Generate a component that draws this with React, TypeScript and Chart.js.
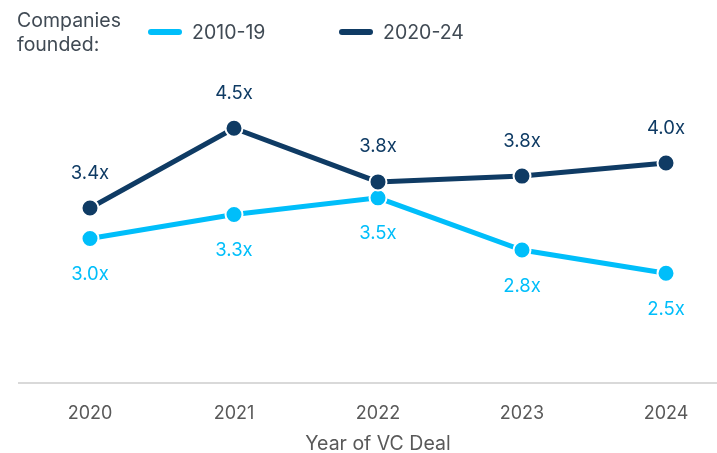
import React, { useEffect, useRef } from "react";
import { Chart, registerables } from "chart.js";

Chart.register(...registerables);

const years = ["2020", "2021", "2022", "2023", "2024"];
const seriesNames = ["2010-19", "2020-24"];
const founded2010s = [2.98, 3.31, 3.54, 2.82, 2.5];
const founded2020s = [3.4, 4.5, 3.76, 3.84, 4.02];
const legendTitle = ["Companies", "founded:"];
const xAxisTitle = "Year of VC Deal";

const LIGHT = "#00BEFA";
const DARK = "#0F3B64";
const FONT = "Inter, 'Noto Sans', sans-serif";

const overlayPlugin = {
  id: "overlay",
  beforeDatasetsDraw(chart: any) {
    const { ctx, chartArea, width } = chart;
    ctx.save();
    ctx.strokeStyle = "#D9D9D9";
    ctx.lineWidth = 2;
    ctx.beginPath();
    ctx.moveTo(18, chartArea.bottom + 1);
    ctx.lineTo(width, chartArea.bottom + 1);
    ctx.stroke();
    ctx.restore();
  },
  afterDatasetsDraw(chart: any) {
    const { ctx } = chart;
    ctx.save();
    ctx.font = `18.5px ${FONT}`;
    ctx.textAlign = "center";
    ctx.textBaseline = "middle";
    chart.data.datasets.forEach((ds: any, i: number) => {
      const meta = chart.getDatasetMeta(i);
      ctx.fillStyle = ds.borderColor;
      meta.data.forEach((pt: any, j: number) => {
        const v = ds.data[j] as number;
        ctx.fillText(v.toFixed(1) + "x", pt.x, pt.y + ds.labelOffset);
      });
    });
    // legend
    ctx.font = `19.5px ${FONT}`;
    ctx.textAlign = "left";
    ctx.fillStyle = "#404A54";
    ctx.fillText(legendTitle[0], 17, 21);
    ctx.fillText(legendTitle[1], 17, 45);
    const items = [
      { name: seriesNames[0], color: LIGHT, x: 148 },
      { name: seriesNames[1], color: DARK, x: 339 },
    ];
    items.forEach((it) => {
      ctx.strokeStyle = it.color;
      ctx.lineWidth = 6;
      ctx.lineCap = "round";
      ctx.beginPath();
      ctx.moveTo(it.x + 3, 32);
      ctx.lineTo(it.x + 31, 32);
      ctx.stroke();
      ctx.fillStyle = "#404A54";
      ctx.fillText(it.name, it.x + 44, 33);
    });
    ctx.restore();
  },
};

export default function App() {
  const ref = useRef<HTMLCanvasElement | null>(null);
  useEffect(() => {
    document.body.style.margin = "0";
    const canvas = ref.current;
    if (!canvas) return;
    const chart = new Chart(canvas, {
      type: "line",
      data: {
        labels: years,
        datasets: [
          {
            label: seriesNames[1],
            data: founded2020s,
            borderColor: DARK,
            backgroundColor: DARK,
            pointBackgroundColor: DARK,
            pointBorderColor: "#FFFFFF",
            pointBorderWidth: 2,
            pointRadius: 8.5,
            borderWidth: 5,
            order: 1,
            clip: false,
            labelOffset: -35,
          } as any,
          {
            label: seriesNames[0],
            data: founded2010s,
            borderColor: LIGHT,
            backgroundColor: LIGHT,
            pointBackgroundColor: LIGHT,
            pointBorderColor: "#FFFFFF",
            pointBorderWidth: 2,
            pointRadius: 8.5,
            borderWidth: 5,
            order: 2,
            clip: false,
            labelOffset: 36,
          } as any,
        ],
      },
      options: {
        animation: false,
        responsive: true,
        maintainAspectRatio: false,
        layout: { padding: { left: 90, right: 51, top: 92, bottom: 0 } },
        plugins: {
          legend: { display: false },
          tooltip: { enabled: false },
        },
        scales: {
          x: {
            offset: false,
            grid: { display: false, drawTicks: false },
            border: { display: false },
            afterFit: (scale: any) => {
              scale.height = 71;
            },
            ticks: {
              padding: 21,
              color: "#595959",
              font: { family: FONT, size: 18 },
            },
            title: {
              display: true,
              text: xAxisTitle,
              color: "#595959",
              font: { family: FONT, size: 19.5 },
              padding: { top: 0, bottom: -3 },
            },
          },
          y: {
            display: false,
            min: 1,
            max: 5,
          },
        },
      },
      plugins: [overlayPlugin],
    });
    return () => chart.destroy();
  }, []);
  return (
    <div style={{ position: "relative", width: 717, height: 453 }}>
      <canvas ref={ref} />
    </div>
  );
}
